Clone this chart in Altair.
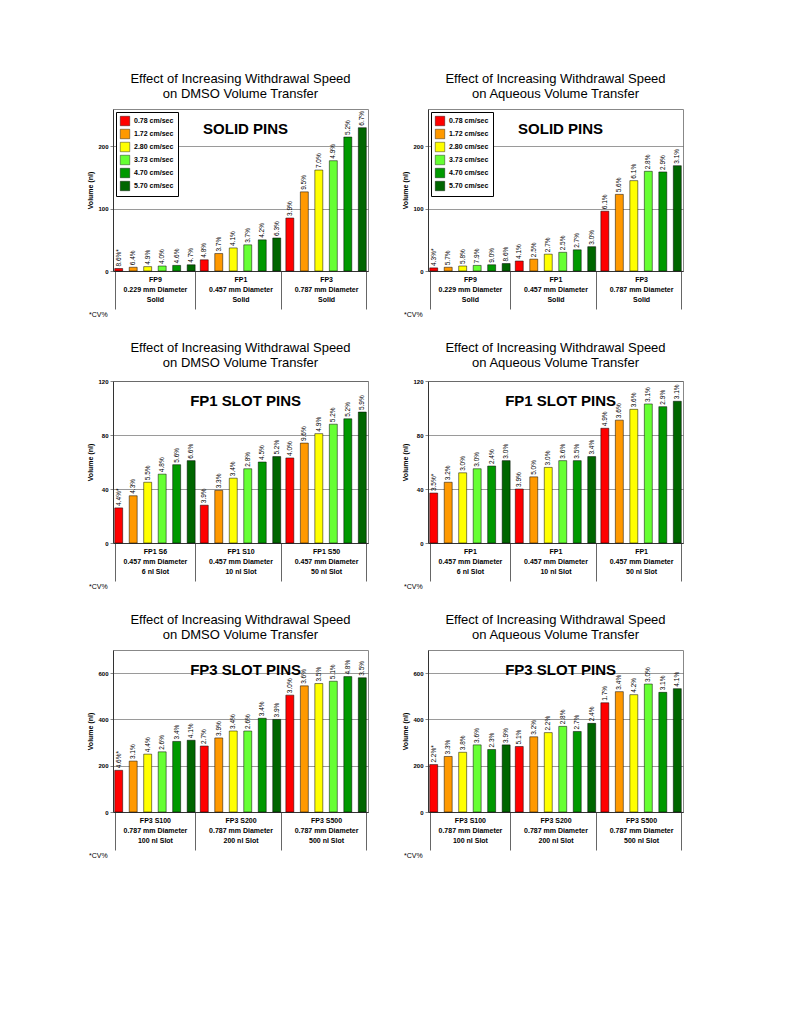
import pandas as pd
import altair as alt

SPEEDS = ['0.78 cm/sec', '1.72 cm/sec', '2.80 cm/sec', '3.73 cm/sec', '4.70 cm/sec', '5.70 cm/sec']
COLORS = ['#FF0000', '#FF9900', '#FFFF00', '#66FF33', '#009900', '#006600']

# panel 1: DMSO, solid pins
solid_groups = ['FP9|0.229 mm Diameter|Solid', 'FP1|0.457 mm Diameter|Solid', 'FP3|0.787 mm Diameter|Solid']
dmso_solid = [4, 6, 7, 8, 9, 10, 18, 28, 37, 42, 50, 53, 85, 127, 162, 177, 215, 230]
dmso_solid_cv = ['8.6%*', '6.4%', '4.9%', '4.0%', '4.6%', '4.7%', '4.8%', '3.7%', '4.1%', '3.7%', '4.2%', '6.3%',
                 '3.9%', '9.5%', '7.0%', '4.9%', '5.2%', '6.7%']
# panel 2: aqueous, solid pins
aq_solid = [5, 6, 8, 9, 10, 12, 16, 19, 27, 30, 34, 39, 96, 123, 145, 160, 159, 169]
aq_solid_cv = ['4.3%*', '5.7%', '5.8%', '7.9%', '9.0%', '8.6%', '4.1%', '2.5%', '2.7%', '2.5%', '2.7%', '3.0%',
               '6.1%', '5.6%', '6.1%', '2.8%', '2.9%', '3.1%']
# panel 3: DMSO, FP1 slot pins
fp1_groups_dmso = ['FP1 S6|0.457 mm Diameter|6 nl Slot', 'FP1 S10|0.457 mm Diameter|10 nl Slot', 'FP1 S50|0.457 mm Diameter|50 nl Slot']
dmso_fp1 = [26, 35, 45, 51, 58, 61, 28, 39, 48, 55, 60, 64, 63, 74, 81, 88, 92, 97]
dmso_fp1_cv = ['4.4%*', '4.3%', '5.5%', '4.8%', '5.6%', '6.6%', '3.9%', '3.3%', '3.4%', '2.8%', '4.5%', '5.2%',
               '4.0%', '9.6%', '4.9%', '5.2%', '5.2%', '5.9%']
# panel 4: aqueous, FP1 slot pins
fp1_groups_aq = ['FP1|0.457 mm Diameter|6 nl Slot', 'FP1 |0.457 mm Diameter|10 nl Slot', 'FP1  |0.457 mm Diameter|50 nl Slot']
aq_fp1 = [37, 45, 52, 55, 57, 61, 40, 49, 56, 61, 61, 64, 85, 91, 99, 103, 101, 105]
aq_fp1_cv = ['3.5%*', '3.2%', '3.0%', '3.0%', '2.4%', '3.0%', '3.9%', '5.0%', '3.0%', '3.6%', '3.5%', '3.4%',
             '4.9%', '3.6%', '3.6%', '3.1%', '2.9%', '3.1%']
# panel 5: DMSO, FP3 slot pins
fp3_groups = ['FP3 S100|0.787 mm Diameter|100 nl Slot', 'FP3 S200|0.787 mm Diameter|200 nl Slot', 'FP3 S500|0.787 mm Diameter|500 nl Slot']
dmso_fp3 = [180, 220, 250, 260, 305, 310, 285, 320, 350, 350, 405, 400, 505, 545, 555, 565, 585, 580]
dmso_fp3_cv = ['4.6%*', '3.1%', '4.4%', '2.6%', '3.4%', '4.1%', '2.7%', '3.9%', '3.4%', '2.6%', '3.4%', '3.9%',
               '3.0%', '3.6%', '3.5%', '5.1%', '4.8%', '3.5%']
# panel 6: aqueous, FP3 slot pins
aq_fp3 = [205, 240, 258, 290, 270, 290, 283, 325, 343, 370, 348, 383, 472, 520, 507, 553, 517, 533]
aq_fp3_cv = ['2.2%*', '3.3%', '3.8%', '3.6%', '2.3%', '3.9%', '5.1%', '3.2%', '2.2%', '2.8%', '2.7%', '2.4%',
             '1.7%', '3.4%', '4.2%', '3.0%', '3.1%', '4.1%']

FONT = 'Liberation Sans'
W, H = 255, 162


def panel(groups, values, cvs, ymax, ystep, label, solvent):
    df = pd.DataFrame({
        'group': [g for g in groups for _ in SPEEDS],
        'speed': SPEEDS * 3,
        'value': values,
        'cv': cvs,
    })
    one = pd.DataFrame({'t': [label]})
    base = alt.Chart(df).encode(
        x=alt.X('group:N', sort=groups, title=None,
                scale=alt.Scale(paddingInner=0.06, paddingOuter=0.02),
                axis=alt.Axis(labelExpr="split(datum.label, '|')", labelAngle=0, labelFontSize=7,
                              labelFontWeight='bold', labelFont=FONT, labelPadding=-34,
                              tickBand='extent', tickSize=38, tickColor='#666', domainColor='#333',
                              labelLineHeight=10, labelBaseline='top')),
        xOffset=alt.XOffset('speed:N', sort=SPEEDS, scale=alt.Scale(paddingInner=0.45)),
    )
    bars = base.mark_bar(stroke='black', strokeWidth=0.5).encode(
        y=alt.Y('value:Q', title='Volume (nl)',
                scale=alt.Scale(domain=[0, ymax]),
                axis=alt.Axis(values=list(range(0, ymax + 1, ystep)), labelOverlap=False,
                              labelFontSize=6, labelFontWeight='bold',
                              titleFontSize=7, titleFont=FONT, labelFont=FONT, gridColor='#555',
                              gridWidth=0.6, tickSize=3, domainColor='#333')),
        color=alt.Color('speed:N', sort=SPEEDS, scale=alt.Scale(domain=SPEEDS, range=COLORS),
                        legend=alt.Legend(title=None, orient='top-left', fillColor='white',
                                          strokeColor='black', padding=4, offset=3, symbolType='square',
                                          symbolSize=90, symbolStrokeColor='black', symbolStrokeWidth=0.4,
                                          labelFontSize=7, labelFontWeight='bold', labelFont=FONT,
                                          rowPadding=1)),
    )
    labels = base.mark_text(angle=270, align='left', baseline='middle', dx=2, fontSize=6.5, font=FONT).encode(
        y='value:Q', text='cv:N')
    head = alt.Chart(one).mark_text(fontSize=15, fontWeight='bold', font=FONT).encode(
        x=alt.value(W * 0.52), y=alt.value(20), text='t:N')
    foot = alt.Chart(one).mark_text(fontSize=7, font=FONT, align='left').encode(
        x=alt.value(-24), y=alt.value(H + 44), text=alt.value('*CV%'))
    return alt.layer(bars, labels, head, foot).properties(
        width=W, height=H,
        title=alt.TitleParams(['Effect of Increasing Withdrawal Speed', f'on {solvent} Volume Transfer'],
                              fontSize=13, fontWeight='normal', font=FONT, offset=8),
    )


left = alt.vconcat(
    panel(solid_groups, dmso_solid, dmso_solid_cv, 250, 50, 'SOLID PINS', 'DMSO'),
    panel(fp1_groups_dmso, dmso_fp1, dmso_fp1_cv, 120, 20, 'FP1 SLOT PINS', 'DMSO'),
    panel(fp3_groups, dmso_fp3, dmso_fp3_cv, 700, 100, 'FP3 SLOT PINS', 'DMSO'),
    spacing=22,
)
right = alt.vconcat(
    panel(solid_groups, aq_solid, aq_solid_cv, 250, 50, 'SOLID PINS', 'Aqueous'),
    panel(fp1_groups_aq, aq_fp1, aq_fp1_cv, 120, 20, 'FP1 SLOT PINS', 'Aqueous'),
    panel(fp3_groups, aq_fp3, aq_fp3_cv, 700, 100, 'FP3 SLOT PINS', 'Aqueous'),
    spacing=22,
)
chart = alt.hconcat(left, right, spacing=32).resolve_scale(color='independent').properties(
    padding={'left': 78, 'top': 64, 'right': 10, 'bottom': 10}
).configure_view(stroke='#888')

chart.save("out.html", embed_options={"renderer": "svg", "actions": False})
